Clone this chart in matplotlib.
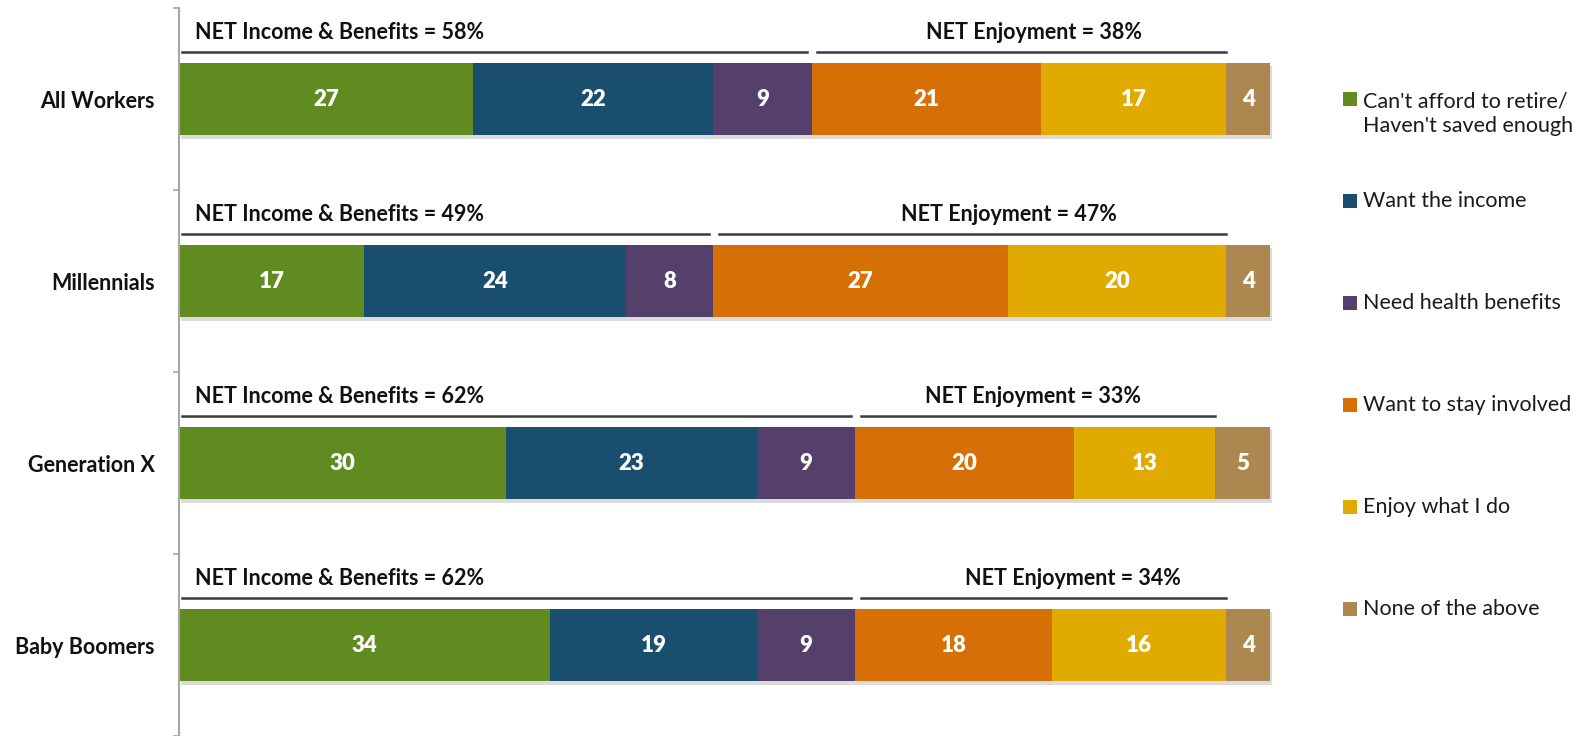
import numpy as np
import matplotlib.pyplot as plt
import matplotlib.patheffects as pe
from matplotlib.patches import Rectangle

plt.rcParams["font.family"] = ["Lato", "DejaVu Sans"]

groups = ["All Workers", "Millennials", "Generation X", "Baby Boomers"]
reasons = ["Can't afford to retire/\nHaven't saved enough", "Want the income",
           "Need health benefits", "Want to stay involved", "Enjoy what I do",
           "None of the above"]
colors = ["#5F8B21", "#194E6E", "#54406A", "#D67006", "#E1AA00", "#AD8750"]

cant_afford = [27, 17, 30, 34]
want_income = [22, 24, 23, 19]
health = [9, 8, 9, 9]
stay_involved = [21, 27, 20, 18]
enjoy = [17, 20, 13, 16]
none_above = [4, 4, 5, 4]

net_income = [58, 49, 62, 62]
net_enjoy = [38, 47, 33, 34]
# where the "NET Enjoyment" labels sit along the bar (percent units)
enjoy_label_x = [78.4, 76.1, 78.3, 81.9]

series = [cant_afford, want_income, health, stay_involved, enjoy, none_above]

W, H = 1591, 736
fig = plt.figure(figsize=(W / 100, H / 100), dpi=100)
ax = fig.add_axes([178.6 / W, 0, (1270 - 178.6) / W, 1 - 8 / H])

y = np.arange(len(groups))
left = np.zeros(len(groups))
shadow = [pe.SimplePatchShadow(offset=(1.5, -2.5), shadow_rgbFace="#9A9A9A", alpha=0.35), pe.Normal()]
for vals, col in zip(series, colors):
    bars = ax.barh(y, vals, left=left, height=0.4, color=col, linewidth=0, clip_on=False)
    for b in bars:
        b.set_path_effects(shadow)
    for yi, l, v in zip(y, left, vals):
        ax.text(l + v / 2, yi, str(v), ha="center", va="center", color="white",
                fontsize=16, fontweight="heavy")
    left += np.array(vals)

# NET brackets
for yi, ni, ne, ex in zip(y, net_income, net_enjoy, enjoy_label_x):
    ly = yi - 0.26
    ax.plot([0.3, ni - 0.4], [ly, ly], color="#3A3A3A", lw=1.8, clip_on=False)
    ax.plot([ni + 0.5, ni + ne], [ly, ly], color="#3A3A3A", lw=1.8, clip_on=False)
    ax.text(1.5, yi - 0.366, f"NET Income & Benefits = {ni}%", ha="left", va="center",
            fontsize=15.5, fontweight="bold", color="#111111")
    ax.text(ex, yi - 0.366, f"NET Enjoyment = {ne}%", ha="center", va="center",
            fontsize=15.5, fontweight="bold", color="#111111")

ax.set_xlim(0, 100)
ax.set_ylim(-0.5 + (H - 8) / 183, -0.5)
ax.set_xticks([])
ax.set_yticks(y)
ax.set_yticklabels(groups, fontsize=15.5, fontweight="bold", color="#111111")
ax.set_yticks(np.arange(-0.5, len(groups) + 0.5, 1), minor=True)
ax.tick_params(axis="y", which="major", length=0, pad=17)
ax.tick_params(axis="y", which="minor", length=4.5, width=1.2, color="#A6A6A6")
for s in ["top", "right", "bottom"]:
    ax.spines[s].set_visible(False)
ax.spines["left"].set_color("#A6A6A6")
ax.spines["left"].set_linewidth(1.5)

# legend on the right
sq = 14
for i, (lab, col) in enumerate(zip(reasons, colors)):
    cy = 99.4 + i * 102
    fig.add_artist(Rectangle((1343 / W, 1 - (cy + sq / 2) / H), sq / W, sq / H,
                             transform=fig.transFigure, color=col, lw=0))
    nl = lab.count("\n")
    fig.text(1363 / W, 1 - (cy + nl * 14.5) / H, lab, ha="left", va="center",
             fontsize=15.5, color="#1A1A1A", linespacing=1.3)

fig.savefig("out.png", dpi=100)
